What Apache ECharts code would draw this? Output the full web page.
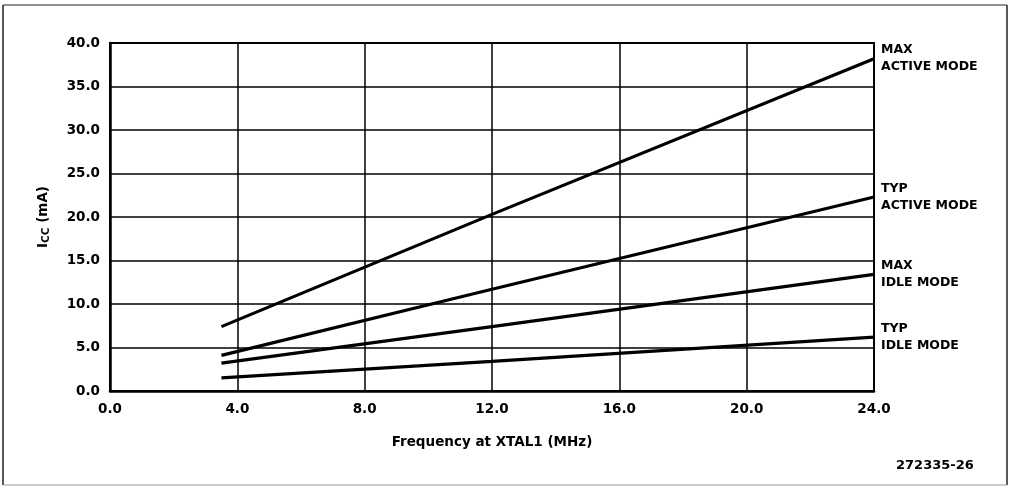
<!DOCTYPE html>
<html>
<head>
<meta charset="utf-8">
<script src="https://cdn.jsdelivr.net/npm/echarts@6/dist/echarts.min.js"></script>
<style>
html,body{margin:0;padding:0;background:#fff;}
#chart{width:1011px;height:486px;}
</style>
</head>
<body>
<div id="chart"></div>
<script>
// Data
var freqMHz = [3.5, 12, 24];
var seriesNames = ['MAX\nACTIVE MODE', 'TYP\nACTIVE MODE', 'MAX\nIDLE MODE', 'TYP\nIDLE MODE'];
var maxActive = [7.4, 20.3, 38.2];
var typActive = [4.1, 11.7, 22.3];
var maxIdle = [3.2, 7.4, 13.4];
var typIdle = [1.5, 3.4, 6.2];
var xTicks = [0, 4, 8, 12, 16, 20, 24];
var yTicks = [0, 5, 10, 15, 20, 25, 30, 35, 40];
var figureId = '272335-26';

var allValues = [maxActive, typActive, maxIdle, typIdle];
var FONT = 'DejaVu Sans';

var chart = echarts.init(document.getElementById('chart'));
var series = allValues.map(function (vals, i) {
  return {
    type: 'line',
    name: seriesNames[i],
    data: freqMHz.map(function (f, j) { return [f, vals[j]]; }),
    showSymbol: false,
    symbol: 'none',
    lineStyle: { color: '#000', width: 3.2 },
    endLabel: {
      show: true,
      formatter: function (p) { return p.seriesName; },
      color: '#000',
      fontFamily: FONT,
      fontWeight: 'bold',
      fontSize: 12.5,
      lineHeight: 17,
      align: 'left',
      distance: 7
    }
  };
});

chart.setOption({
  animation: false,
  backgroundColor: '#fff',
  grid: { left: 110, right: 137, top: 43, bottom: 95, show: true, borderColor: '#000', borderWidth: 2, backgroundColor: 'transparent' },
  xAxis: {
    type: 'value', min: xTicks[0], max: xTicks[xTicks.length - 1], interval: 4,
    name: 'Frequency at XTAL1 (MHz)', nameLocation: 'middle', nameGap: 44,
    nameTextStyle: { color: '#000', fontFamily: FONT, fontWeight: 'bold', fontSize: 13.5 },
    axisLine: { show: true, lineStyle: { color: '#000', width: 2.5 } },
    axisTick: { show: false },
    axisLabel: { color: '#000', fontFamily: FONT, fontWeight: 'bold', fontSize: 13.5, margin: 11, formatter: function (v) { return v.toFixed(1); } },
    splitLine: { show: true, lineStyle: { color: '#000', width: 1.5 } }
  },
  yAxis: {
    type: 'value', min: yTicks[0], max: yTicks[yTicks.length - 1], interval: 5,
    name: '{i|I}{s|CC}{i| (mA)}', nameLocation: 'middle', nameGap: 58,
    nameTextStyle: { color: '#000', fontFamily: FONT, rich: { i: { fontFamily: FONT, fontWeight: 'bold', fontSize: 13.5, color: '#000' }, s: { fontFamily: FONT, fontWeight: 'bold', fontSize: 10.5, color: '#000', verticalAlign: 'bottom', padding: [6, 0, 0, 0] } } },
    axisLine: { show: true, lineStyle: { color: '#000', width: 2.5 } },
    axisTick: { show: false },
    axisLabel: { color: '#000', fontFamily: FONT, fontWeight: 'bold', fontSize: 13.5, margin: 10, formatter: function (v) { return v.toFixed(1); } },
    splitLine: { show: true, lineStyle: { color: '#000', width: 1.5 } }
  },
  graphic: [
    { type: 'line', shape: { x1: 3, y1: 5, x2: 1007, y2: 5 }, style: { stroke: '#222', lineWidth: 1 } },
    { type: 'line', shape: { x1: 3, y1: 5, x2: 3, y2: 485 }, style: { stroke: '#222', lineWidth: 1.5 } },
    { type: 'line', shape: { x1: 1007, y1: 5, x2: 1007, y2: 485 }, style: { stroke: '#222', lineWidth: 1.5 } },
    { type: 'line', shape: { x1: 3, y1: 485, x2: 1007, y2: 485 }, style: { stroke: '#999', lineWidth: 1 } },
    { type: 'text', left: 896, top: 459, style: { text: figureId, fill: '#000', font: 'bold 13px "DejaVu Sans"' } }
  ],
  series: series
});
</script>
</body>
</html>
